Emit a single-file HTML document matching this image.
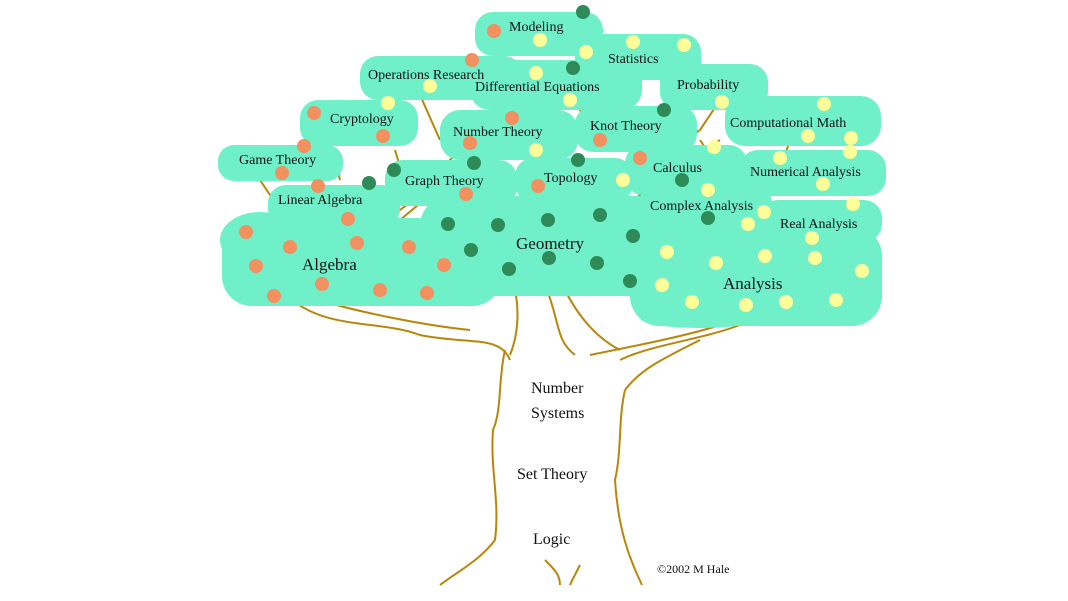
<!DOCTYPE html>
<html><head><style>body{margin:0;background:#fff}svg{display:block}text{font-family:"Liberation Serif",serif;fill:#111}</style></head><body>
<svg width="1068" height="601" viewBox="0 0 1068 601">
<g fill="none" stroke="#b8860b" stroke-width="2">
<path d="M292,300 C330,330 380,320 420,335 C470,345 500,335 510,360"/>
<path d="M320,300 C350,310 420,325 470,330"/>
<path d="M505,350 C498,380 502,410 493,430 C490,470 500,500 495,540 C480,560 460,570 440,585"/>
<path d="M510,270 C520,300 520,330 510,355"/>
<path d="M545,285 C560,320 555,340 575,355"/>
<path d="M565,290 C580,320 600,340 620,350"/>
<path d="M590,355 C640,345 690,335 720,325 C760,320 800,330 815,315"/>
<path d="M620,360 C650,345 700,340 740,325"/>
<path d="M625,390 C618,420 622,450 615,480 C618,530 630,560 642,585"/>
<path d="M625,390 C640,370 660,360 700,340"/>
<path d="M545,560 C555,570 560,575 560,585"/>
<path d="M580,565 C575,575 572,580 570,585"/>
<path d="M360,230 L420,190 L470,140 L520,100 M380,225 L440,180 L500,130 L540,90 M400,220 L460,170 L520,120"/>
<path d="M600,210 L640,170 L700,130 L720,100 M620,210 L660,180 L720,140 M700,240 L740,200 L780,170 L790,140 M720,235 L760,240 L800,210"/>
<path d="M260,180 L280,210 M330,140 L340,180 M560,60 L580,110 L600,140"/>
<path d="M395,150 L410,200 M420,95 L440,140 M700,140 L720,170 M740,180 L760,215"/>
</g>
<g fill="#6ff0c8">
<rect x="222" y="218" width="280" height="88" rx="30"/>
<ellipse cx="260" cy="240" rx="40" ry="28"/><ellipse cx="420" cy="290" rx="60" ry="14"/>
<rect x="420" y="196" width="262" height="100" rx="30"/>
<ellipse cx="560" cy="210" rx="70" ry="18"/>
<rect x="630" y="226" width="252" height="100" rx="30"/>
<ellipse cx="700" cy="318" rx="60" ry="10"/>
<rect x="268" y="185" width="132" height="42" rx="18"/>
<rect x="218" y="145" width="125" height="36" rx="16"/>
<rect x="300" y="100" width="118" height="46" rx="18"/>
<rect x="385" y="160" width="132" height="46" rx="18"/>
<rect x="440" y="110" width="138" height="50" rx="20"/>
<rect x="515" y="158" width="118" height="44" rx="18"/>
<rect x="575" y="106" width="122" height="46" rx="18"/>
<rect x="625" y="145" width="122" height="50" rx="18"/>
<rect x="640" y="185" width="132" height="50" rx="18"/>
<rect x="760" y="200" width="122" height="42" rx="18"/>
<rect x="740" y="150" width="146" height="46" rx="18"/>
<rect x="725" y="96" width="156" height="50" rx="20"/>
<rect x="660" y="64" width="108" height="46" rx="18"/>
<rect x="575" y="34" width="126" height="46" rx="18"/>
<rect x="470" y="60" width="172" height="50" rx="20"/>
<rect x="360" y="56" width="162" height="44" rx="18"/>
<rect x="475" y="12" width="128" height="44" rx="18"/>
</g>
<g fill="#f39060">
<circle cx="246" cy="232" r="7"/><circle cx="256" cy="266" r="7"/><circle cx="274" cy="296" r="7"/><circle cx="290" cy="247" r="7"/><circle cx="322" cy="284" r="7"/><circle cx="357" cy="243" r="7"/><circle cx="380" cy="290" r="7"/><circle cx="409" cy="247" r="7"/><circle cx="444" cy="265" r="7"/><circle cx="427" cy="293" r="7"/><circle cx="348" cy="219" r="7"/><circle cx="318" cy="186" r="7"/><circle cx="282" cy="173" r="7"/><circle cx="304" cy="146" r="7"/><circle cx="314" cy="113" r="7"/><circle cx="383" cy="136" r="7"/><circle cx="466" cy="194" r="7"/><circle cx="470" cy="143" r="7"/><circle cx="512" cy="118" r="7"/><circle cx="538" cy="186" r="7"/><circle cx="600" cy="140" r="7"/><circle cx="640" cy="158" r="7"/><circle cx="494" cy="31" r="7"/><circle cx="472" cy="60" r="7"/>
</g>
<g fill="#2e8b57">
<circle cx="448" cy="224" r="7"/><circle cx="471" cy="250" r="7"/><circle cx="498" cy="225" r="7"/><circle cx="548" cy="220" r="7"/><circle cx="600" cy="215" r="7"/><circle cx="549" cy="258" r="7"/><circle cx="597" cy="263" r="7"/><circle cx="633" cy="236" r="7"/><circle cx="509" cy="269" r="7"/><circle cx="630" cy="281" r="7"/><circle cx="369" cy="183" r="7"/><circle cx="394" cy="170" r="7"/><circle cx="474" cy="163" r="7"/><circle cx="578" cy="160" r="7"/><circle cx="664" cy="110" r="7"/><circle cx="583" cy="12" r="7"/><circle cx="573" cy="68" r="7"/><circle cx="682" cy="180" r="7"/><circle cx="708" cy="218" r="7"/>
</g>
<g fill="#ffff99">
<circle cx="667" cy="252" r="7"/><circle cx="662" cy="285" r="7"/><circle cx="692" cy="302" r="7"/><circle cx="716" cy="263" r="7"/><circle cx="746" cy="305" r="7"/><circle cx="765" cy="256" r="7"/><circle cx="786" cy="302" r="7"/><circle cx="815" cy="258" r="7"/><circle cx="836" cy="300" r="7"/><circle cx="862" cy="271" r="7"/><circle cx="540" cy="40" r="7"/><circle cx="586" cy="52" r="7"/><circle cx="633" cy="42" r="7"/><circle cx="684" cy="45" r="7"/><circle cx="536" cy="73" r="7"/><circle cx="430" cy="86" r="7"/><circle cx="388" cy="103" r="7"/><circle cx="570" cy="100" r="7"/><circle cx="722" cy="102" r="7"/><circle cx="824" cy="104" r="7"/><circle cx="808" cy="136" r="7"/><circle cx="851" cy="138" r="7"/><circle cx="780" cy="158" r="7"/><circle cx="850" cy="152" r="7"/><circle cx="823" cy="184" r="7"/><circle cx="764" cy="212" r="7"/><circle cx="853" cy="204" r="7"/><circle cx="812" cy="238" r="7"/><circle cx="714" cy="147" r="7"/><circle cx="708" cy="190" r="7"/><circle cx="536" cy="150" r="7"/><circle cx="623" cy="180" r="7"/><circle cx="748" cy="224" r="7"/>
</g>
<g font-size="14">
<text x="509" y="31">Modeling</text>
<text x="608" y="63">Statistics</text>
<text x="368" y="79">Operations Research</text>
<text x="475" y="91">Differential Equations</text>
<text x="677" y="89">Probability</text>
<text x="330" y="123">Cryptology</text>
<text x="453" y="136">Number Theory</text>
<text x="590" y="130">Knot Theory</text>
<text x="730" y="127">Computational Math</text>
<text x="239" y="164">Game Theory</text>
<text x="405" y="185">Graph Theory</text>
<text x="544" y="182">Topology</text>
<text x="653" y="172">Calculus</text>
<text x="750" y="176">Numerical Analysis</text>
<text x="278" y="204">Linear Algebra</text>
<text x="650" y="210">Complex Analysis</text>
<text x="780" y="228">Real Analysis</text>
</g>
<g font-size="17">
<text x="302" y="270">Algebra</text>
<text x="516" y="249">Geometry</text>
<text x="723" y="289">Analysis</text>
</g>
<g font-size="16">
<text x="531" y="393">Number</text>
<text x="531" y="418">Systems</text>
<text x="517" y="479">Set Theory</text>
<text x="533" y="544">Logic</text>
</g>
<text x="657" y="573" font-size="12">©2002 M Hale</text>
</svg>
</body></html>
